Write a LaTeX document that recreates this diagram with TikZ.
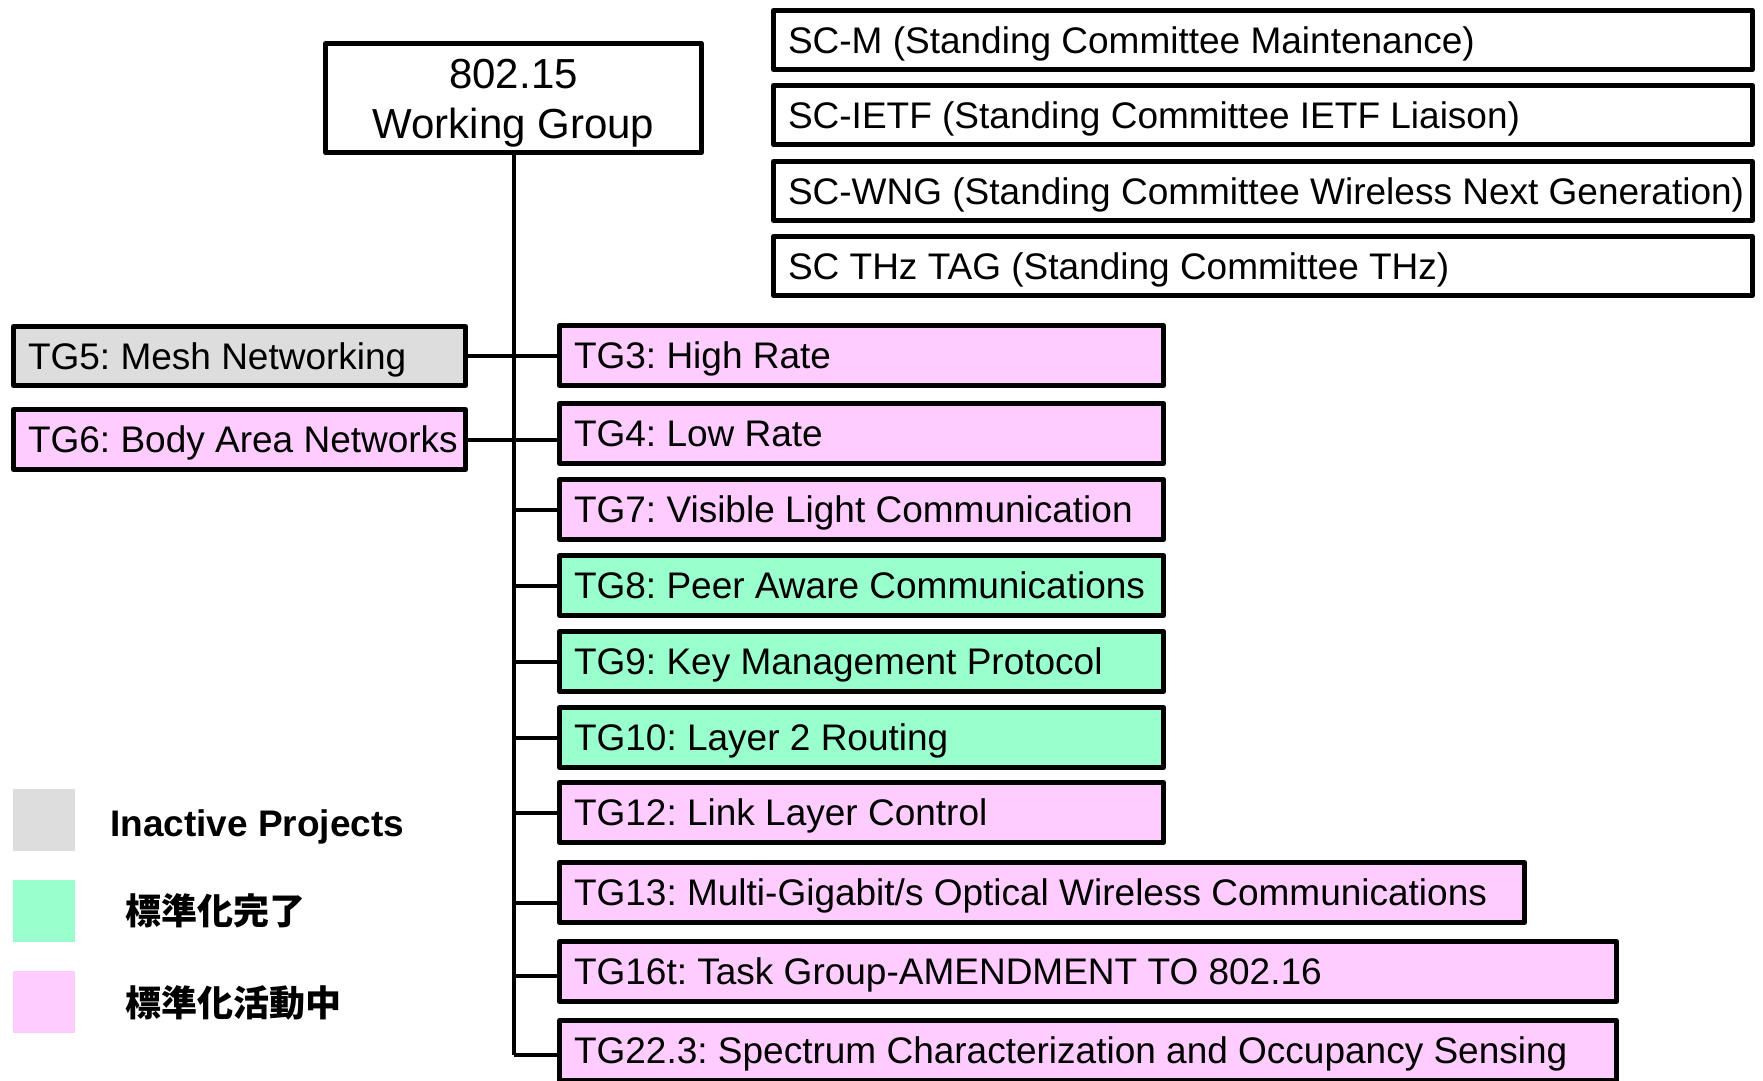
\documentclass[tikz,border=0pt]{standalone}
\usepackage{fontspec}
\setmainfont{Liberation Sans}
\newfontfamily\cjk{Noto Sans CJK JP}
\definecolor{tgpink}{HTML}{FFCCFF}
\definecolor{tggreen}{HTML}{99FFCC}
\definecolor{tggray}{HTML}{DDDDDD}
\newcommand{\bt}[2]{\makebox[#1][l]{#2}}
\frenchspacing
\begin{document}
\frenchspacing
\begin{tikzpicture}[x=1pt,y=-1pt,
  box/.style={draw, line width=5pt, line join=round, minimum height=60pt,
    inner xsep=14.5pt, inner ysep=0pt, text height=26.5pt, text depth=0pt,
    anchor=north west, font=\fontsize{37pt}{44pt}\selectfont},
  conn/.style={line width=4pt},
  legsq/.style={fill=#1, minimum size=62pt, inner sep=0pt, anchor=north west},
  legtxt/.style={anchor=base west, inner sep=0pt, font=\bfseries\fontsize{37pt}{44pt}\selectfont},
  cjktxt/.style={anchor=base west, inner sep=0pt, font=\cjk\bfseries\fontsize{36pt}{44pt}\selectfont},
  wgtxt/.style={anchor=base, inner sep=0pt, font=\fontsize{42pt}{50pt}\selectfont}]
\useasboundingbox (0,0) rectangle (1763,1080);

% working group
\node[box, minimum width=376pt, minimum height=109pt] (wg) at (323,41) {};
\node[wgtxt] (wgnum) at (513.5,88) {802.15};
\node[wgtxt] (wgname) at (513.5,138) {Working Group};

% standing committees
\node[box, minimum height=59pt] (scm) at (771,8) {\bt{950pt}{SC-M (Standing Committee Maintenance)}};
\node[box, minimum height=59pt] (scietf) at (771,83) {\bt{950pt}{SC-IETF (Standing Committee IETF Liaison)}};
\node[box, minimum height=59pt] (scwng) at (771,159) {\bt{950pt}{SC-WNG (Standing Committee Wireless Next Generation)}};
\node[box, minimum height=59pt] (scthz) at (771,234) {\bt{950pt}{SC THz TAG (Standing Committee THz)}};

% left task groups
\node[box, fill=tggray, minimum height=59pt] (tg5) at (11,324) {\bt{423pt}{TG5: Mesh Networking}};
\node[box, fill=tgpink] (tg6) at (11,407) {\bt{423pt}{TG6: Body Area Networks}};

% right task groups
\node[box, fill=tgpink] (tg3) at (557,323) {\bt{575pt}{TG3: High Rate}};
\node[box, fill=tgpink] (tg4) at (557,401) {\bt{575pt}{TG4: Low Rate}};
\node[box, fill=tgpink] (tg7) at (557,477) {\bt{575pt}{TG7: Visible Light Communication}};
\node[box, fill=tggreen] (tg8) at (557,553) {\bt{575pt}{TG8: Peer Aware Communications}};
\node[box, fill=tggreen] (tg9) at (557,629) {\bt{575pt}{TG9: Key Management Protocol}};
\node[box, fill=tggreen] (tg10) at (557,705) {\bt{575pt}{TG10: Layer 2 Routing}};
\node[box, fill=tgpink] (tg12) at (557,780) {\bt{575pt}{TG12: Link Layer Control}};
\node[box, fill=tgpink] (tg13) at (557,860) {\bt{936pt}{TG13: Multi-Gigabit/s Optical Wireless Communications}};
\node[box, fill=tgpink] (tg16) at (557,939) {\bt{1028pt}{TG16t: Task Group-AMENDMENT TO 802.16}};
\node[box, fill=tgpink] (tg22) at (557,1018) {\bt{1028pt}{TG22.3: Spectrum Characterization and Occupancy Sensing}};

% connectors
\coordinate (j13) at ([yshift=-10.5pt]tg13.west);
\coordinate (j16) at ([yshift=-4.5pt]tg16.west);
\coordinate (j22) at ([yshift=-4.5pt]tg22.west);
\draw[conn] (wg.south) -- (wg.south |- j22);
\draw[conn] (tg5.east) -- (tg3.west |- tg5.east);
\draw[conn] (tg6.east) -- (tg4.west |- tg6.east);
\foreach \n in {tg7,tg8,tg9,tg10,tg12}{
  \draw[conn] (wg.south |- \n.west) -- (\n.west);
}
\draw[conn] (wg.south |- j13) -- (j13);
\draw[conn] (wg.south |- j16) -- (j16);
\draw[conn] (wg.south |- j22) -- (j22);

% legend
\node[legsq=tggray] (lg1) at (13,789) {};
\node[legsq=tggreen] (lg2) at (13,880) {};
\node[legsq=tgpink] (lg3) at (13,971) {};
\node[legtxt] (lt1) at (110,836) {Inactive Projects};
\node[cjktxt] (lt2) at (125,924) {標準化完了};
\node[cjktxt] (lt3) at (125,1016) {標準化活動中};
\end{tikzpicture}
\end{document}
